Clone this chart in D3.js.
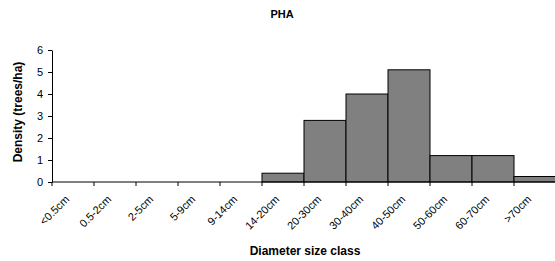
<!DOCTYPE html>
<html>
<head>
<meta charset="utf-8">
<script src="https://cdn.jsdelivr.net/npm/d3@7"></script>
<style>
  body { margin: 0; background: #fff; }
  text { font-family: "Liberation Sans", Arial, sans-serif; fill: #000; }
</style>
</head>
<body>
<div id="chart"></div>
<script>
// Diameter classes and densities
const sizeClasses = ["<0.5cm", "0.5-2cm", "2-5cm", "5-9cm", "9-14cm", "14-20cm",
    "20-30cm", "30-40cm", "40-50cm", "50-60cm", "60-70cm", ">70cm"];
const density = [0, 0, 0, 0, 0, 0.4, 2.8, 4.0, 5.1, 1.2, 1.2, 0.25];
const yTicks = [0, 1, 2, 3, 4, 5, 6];

const margin = {top: 50, right: 0, bottom: 79, left: 52};
const width = 504;
const height = 132;

const svg = d3.select("#chart")
    .append("svg")
    .attr("width", 555)
    .attr("height", 261);

const g = svg.append("g")
    .attr("transform", `translate(${margin.left},${margin.top})`);

const x = d3.scaleBand()
    .domain(sizeClasses)
    .range([0, width])
    .padding(0);

const y = d3.scaleLinear()
    .domain([0, 6])
    .range([height, 0]);

const data = sizeClasses.map((c, i) => ({cls: c, value: density[i]}));

// Bars
g.selectAll(".bar")
    .data(data.filter(d => d.value > 0))
    .enter()
    .append("rect")
    .attr("class", "bar")
    .attr("x", d => x(d.cls))
    .attr("width", x.bandwidth())
    .attr("y", d => y(d.value))
    .attr("height", d => height - y(d.value))
    .attr("fill", "#808080")
    .attr("stroke", "#000")
    .attr("stroke-width", 1);

// X axis line and ticks on category boundaries
const xAxis = g.append("g")
    .attr("transform", `translate(0,${height})`);
xAxis.append("line")
    .attr("x1", 0).attr("x2", width)
    .attr("stroke", "#000");
xAxis.selectAll(".xt")
    .data(sizeClasses)
    .enter()
    .append("line")
    .attr("x1", d => x(d)).attr("x2", d => x(d))
    .attr("y1", 0).attr("y2", 4)
    .attr("stroke", "#000");
xAxis.selectAll(".xl")
    .data(sizeClasses)
    .enter()
    .append("text")
    .attr("transform", d => `translate(${x(d) + x.bandwidth() / 2 - 3},${18}) rotate(-45)`)
    .attr("text-anchor", "end")
    .style("font-size", "11px")
    .text(d => d);

// Y axis
g.append("g")
    .call(d3.axisLeft(y).tickValues(yTicks).tickSize(4).tickSizeOuter(0).tickFormat(d3.format("d")))
    .call(a => a.select(".domain").attr("stroke", "#000"))
    .call(a => a.selectAll(".tick line").attr("stroke", "#000"))
    .call(a => a.selectAll(".tick text")
        .attr("x", -9)
        .style("font-size", "11px")
        .style("font-family", "'Liberation Sans', Arial, sans-serif"));

// Axis titles
svg.append("text")
    .attr("x", margin.left + width / 2 + 1)
    .attr("y", 255)
    .attr("text-anchor", "middle")
    .style("font-size", "12px")
    .style("font-weight", "bold")
    .text("Diameter size class");

svg.append("text")
    .attr("transform", `translate(22,${margin.top + height / 2 - 4}) rotate(-90)`)
    .attr("text-anchor", "middle")
    .style("font-size", "12px")
    .style("font-weight", "bold")
    .text("Density (trees/ha)");

// Title
svg.append("text")
    .attr("x", 282)
    .attr("y", 18)
    .attr("text-anchor", "middle")
    .style("font-size", "11px")
    .style("font-weight", "bold")
    .text("PHA");
</script>
</body>
</html>
